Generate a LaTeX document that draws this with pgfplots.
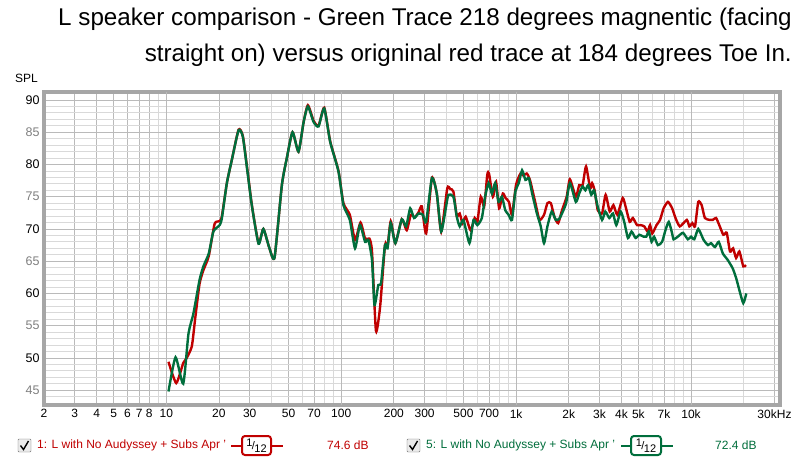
\documentclass[border=0pt]{standalone}
\usepackage{fontspec}
\setmainfont{Liberation Sans}
\usepackage{pgfplots}
\pgfplotsset{compat=1.18}
\definecolor{rtr}{RGB}{192,0,0}
\definecolor{gtr}{RGB}{0,110,60}
\definecolor{glab}{RGB}{0,110,60}

\pgfplotstableread{
f v
10.3 49.4
11.4 46.1
12.5 49.2
13.1 50.0
14.0 51.8
14.6 55.9
15.5 61.5
16.3 63.6
17.5 65.8
18.9 70.8
20.2 71.2
20.8 72.0
22.2 77.1
23.7 80.7
25.9 85.4
27.4 84.4
29.2 78.8
30.9 73.6
33.7 67.8
35.9 70.0
38.9 67.0
41.6 65.6
45.8 76.8
48.9 81.0
52.7 85.0
57 82.0
61 86.6
64.5 89.2
69.5 86.8
74.2 86.0
80 88.8
86.5 83.6
96.5 79.0
103 74.0
112 72.2
120 68.3
129 71.0
137 68.5
145 68.5
150 66.5
158 54.2
167 58.0
178 67.5
184 67.2
192 71.2
204 67.8
222 71.5
237 69.8
250 72.2
263 71.8
277 72.6
289 73.5
306 69.3
330 77.9
352 75.5
373 69.6
404 76.3
420 76.2
438 75.8
458 72.0
476 72.4
494 70.9
515 71.9
549 69.8
580 71.7
600 71.0
628 75.0
657 73.5
684 78.4
700 78.6
737 75.0
768 77.3
800 73.2
840 75.5
870 74.8
910 74.2
947 72.2
1000 76.9
1060 78.6
1100 78.3
1150 78.6
1200 77.6
1290 74.0
1360 71.4
1444 72.2
1510 74.0
1580 74.0
1655 71.9
1740 70.9
1830 72.9
1946 75.0
2030 77.7
2195 75.0
2295 76.8
2400 76.8
2510 79.7
2650 76.3
2720 77.1
2810 76.0
2930 72.9
3100 72.4
3250 75.3
3430 72.7
3600 73.7
3790 72.2
4070 74.8
4250 73.2
4460 71.1
4650 71.7
4910 70.6
5150 70.6
5400 70.4
5650 69.6
5830 70.6
6000 69.3
6350 70.6
6650 71.4
6970 73.2
7380 74.2
7800 73.2
8150 71.7
8630 70.4
9460 71.4
9780 70.4
10170 70.9
10540 70.4
11000 74.2
11500 73.7
12000 71.7
12800 71.4
13300 71.4
13900 71.7
14500 70.6
15300 69.1
16000 69.4
16700 66.5
17400 67.0
18100 65.5
18900 66.5
19900 64.2
20600 64.4
}\redtrace

\pgfplotstableread{
f v
10.3 44.8
11.3 50.1
12.5 46.0
13.4 53.8
14.3 56.9
15.5 62.1
16.3 64.2
17.5 66.2
18.6 69.6
20.2 70.6
20.8 71.7
22.2 77.1
23.7 80.7
25.9 85.3
27.4 84.3
29.2 78.6
30.9 73.5
33.7 67.7
35.9 70.0
38.9 67.0
41.6 65.6
45.8 76.8
48.9 81.0
52.7 85.0
57 82.0
61 86.6
64.5 89.0
69.5 86.6
74.2 85.9
80 88.7
86.5 83.5
96.5 78.9
103 73.7
112 71.4
120 67.0
128 70.6
137 68.0
143 68.3
150 65.2
155 58.2
163 61.3
169 61.6
178 67.5
184 67.0
192 70.9
204 67.8
222 71.5
235 70.4
248 73.2
261 71.7
277 72.4
293 72.2
306 71.1
330 77.9
352 75.5
373 69.6
398 73.5
410 75.3
438 75.0
458 71.9
476 70.4
500 71.4
541 67.8
571 71.4
600 70.6
637 71.7
665 75.0
696 77.1
727 75.5
759 77.1
794 74.2
830 75.0
867 72.9
906 72.2
947 71.4
990 75.8
1035 77.1
1082 79.1
1131 77.6
1182 77.9
1235 75.5
1315 72.4
1383 70.4
1444 67.8
1510 70.4
1597 72.7
1685 71.4
1768 71.6
1864 72.9
1932 74.0
2030 77.1
2195 74.2
2295 75.5
2397 76.6
2490 76.0
2580 76.8
2690 75.3
2790 76.0
2925 73.5
3100 71.4
3235 72.7
3410 71.7
3580 72.4
3740 70.6
3960 72.7
4150 71.1
4360 68.6
4570 69.6
4820 68.6
5060 69.1
5360 68.8
5550 68.8
5740 69.6
5950 68.0
6150 68.8
6460 67.5
6830 68.0
7140 69.8
7460 71.1
7800 69.3
7950 68.4
8400 68.8
8990 69.4
9590 68.4
10000 68.8
10440 68.4
11000 70.0
11800 68.3
12500 67.5
13000 67.8
13700 67.2
14400 68.0
15200 66.2
16200 65.2
17300 63.9
18100 62.4
18900 60.5
19900 58.5
20700 60.0
}\greentrace

\begin{document}
\begin{tikzpicture}[x=1pt,y=1pt]
\path[use as bounding box, fill=white] (0,0) rectangle (800,461);
\begin{axis}[
  at={(44pt,56pt)}, anchor=south west, scale only axis,
  width=736pt, height=313pt,
  xmode=log, xmin=2, xmax=32260, ymin=42.7, ymax=91.24,
  xtick={2,3,4,5,6,7,8,10,20,30,50,70,100,200,300,500,700,1000,2000,3000,4000,5000,7000,10000,30000},
  xticklabels={2,3,4,5,6,7,8,10,20,30,50,70,100,200,300,500,700,1k,2k,3k,4k,5k,7k,10k,30kHz},
  minor xtick={9,40,60,80,90,400,600,800,900,6000,8000,9000,20000},
  ytick={45,50,...,90},
  yticklabels={{\color{black!50}45},50,{\color{black!50}55},60,{\color{black!50}65},70,{\color{black!50}75},80,{\color{black!50}85},90},
  minor ytick={43,44,...,91},
  grid=both,
  major grid style={black!27, line width=0.8pt},
  minor grid style={black!15, line width=0.8pt},
  extra x ticks={10,100,1000,10000},
  extra x tick labels={,,,},
  extra x tick style={grid style={black!55, line width=0.9pt}},
  major tick length=0pt, minor tick length=0pt,
  axis line style={draw=black!35, line width=3.5pt},
  xticklabel style={font=\fontsize{12}{14}\selectfont, yshift=-1pt},
  yticklabel style={font=\fontsize{12.5}{14}\selectfont, xshift=-1pt},
  clip=true,
]
\addplot[rtr, line width=2.4pt, smooth, tension=0.35] table[x=f,y=v] {\redtrace};
\addplot[gtr, line width=2.4pt, smooth, tension=0.35] table[x=f,y=v] {\greentrace};
\end{axis}

% title
\node[anchor=base east, font=\fontsize{24.2}{28}\selectfont, inner sep=0pt] at (792,435) {L speaker comparison - Green Trace 218 degrees magnentic (facing};
\node[anchor=base east, font=\fontsize{24.2}{28}\selectfont, inner sep=0pt] at (792,399) {straight on) versus origninal red trace at 184 degrees Toe In.};
% SPL
\node[anchor=base west, font=\fontsize{12}{14}\selectfont, inner sep=0pt] at (15,378) {SPL};

% legend 1
\draw[black!55, fill=black!8, rounded corners=1pt] (18,9) rectangle (31,22);
\draw[black, line width=1.4pt] (20.5,15.5) -- (23.5,11.5) -- (28.5,20);
\node[anchor=west, inner sep=0pt, text=rtr, font=\fontsize{12}{14}\selectfont] at (37,15.5) {1: L with No Audyssey + Subs Apr '};
\draw[rtr, line width=1.6pt] (231,15) -- (283,15);
\draw[rtr, line width=2pt, fill=white, rounded corners=3pt] (242,6) rectangle (271,25);
\node[inner sep=0pt, font=\fontsize{11}{11}\selectfont] at (256.5,15.5) {\raisebox{3pt}{1}\kern-0.5pt/\kern-0.5pt\raisebox{-3pt}{12}};
\node[anchor=west, inner sep=0pt, text=rtr, font=\fontsize{12}{14}\selectfont] at (327,15.5) {74.6 dB};

% legend 2
\draw[black!55, fill=black!8, rounded corners=1pt] (407,9) rectangle (420,22);
\draw[black, line width=1.4pt] (409.5,15.5) -- (412.5,11.5) -- (417.5,20);
\node[anchor=west, inner sep=0pt, text=glab, font=\fontsize{12}{14}\selectfont] at (426,15.5) {5: L with No Audyssey + Subs Apr '};
\draw[gtr, line width=1.6pt] (621,15) -- (673,15);
\draw[gtr, line width=2pt, fill=white, rounded corners=3pt] (631,6) rectangle (661,25);
\node[inner sep=0pt, font=\fontsize{11}{11}\selectfont] at (646,15.5) {\raisebox{3pt}{1}\kern-0.5pt/\kern-0.5pt\raisebox{-3pt}{12}};
\node[anchor=west, inner sep=0pt, text=glab, font=\fontsize{12}{14}\selectfont] at (715,15.5) {72.4 dB};
\end{tikzpicture}
\end{document}
